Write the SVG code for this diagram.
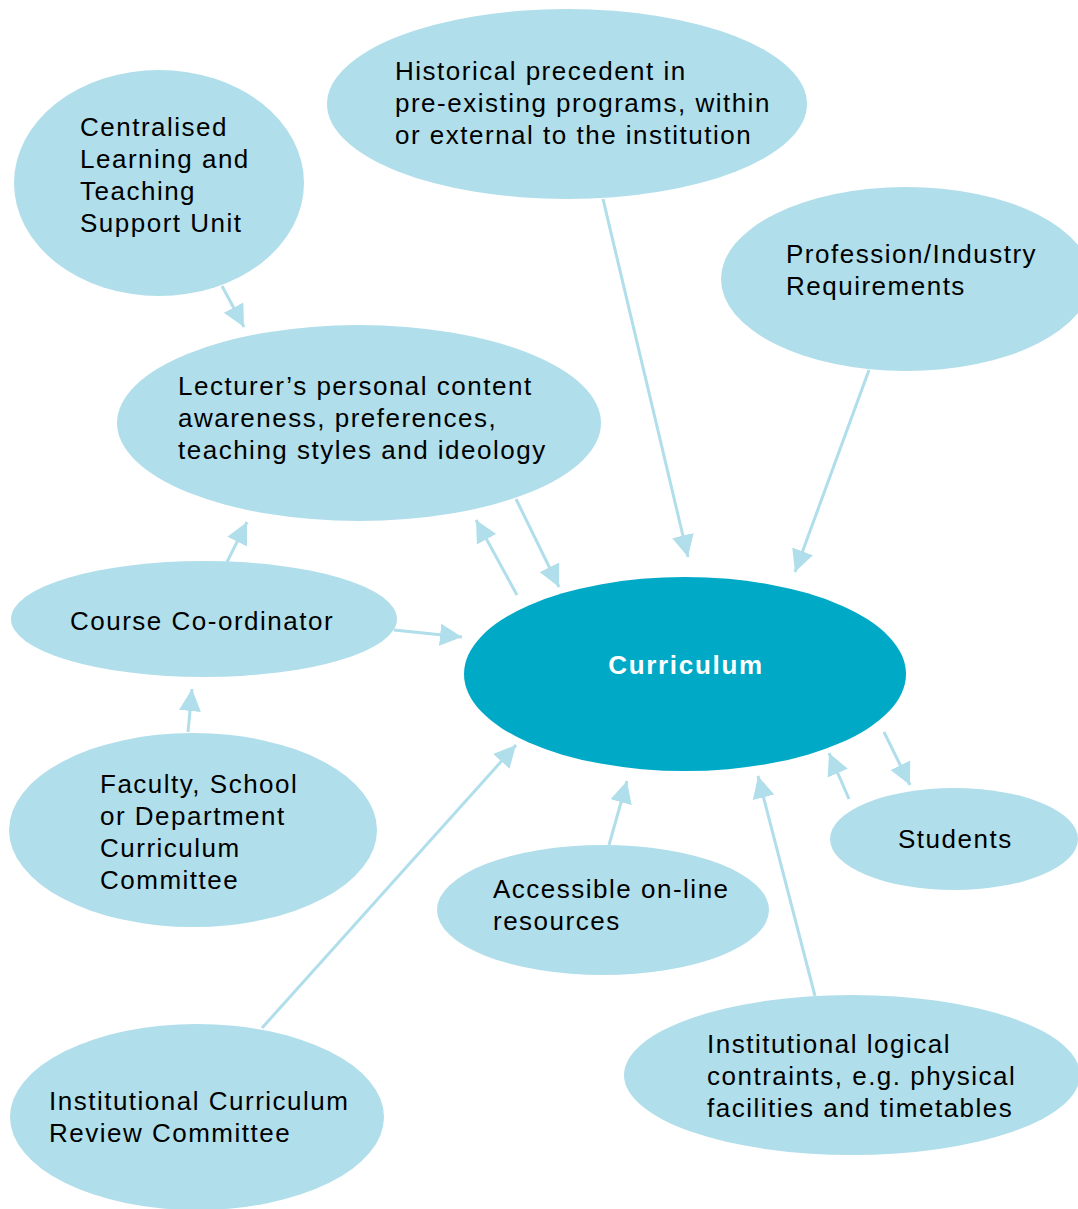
<svg xmlns="http://www.w3.org/2000/svg" width="1078" height="1209" viewBox="0 0 1078 1209">
<style>
.n{fill:#b0deea}
.c{fill:#00a9c6}
.t{font-family:"Liberation Sans",Arial,sans-serif;font-size:26px;letter-spacing:1.5px;fill:#000}
.ct{font-family:"Liberation Sans",Arial,sans-serif;font-size:26px;font-weight:bold;letter-spacing:1.7px;fill:#fff}
.e{stroke:#b0deea;stroke-width:3;fill:none;marker-end:url(#ah)}
</style>
<defs>
<marker id="ah" markerUnits="userSpaceOnUse" markerWidth="24" markerHeight="24" viewBox="0 0 24 24" refX="22" refY="12" orient="auto">
<path d="M0,1 L22,12 L0,23 Z" fill="#b0deea"/>
</marker>
</defs>
<rect width="1078" height="1209" fill="#fff"/>
<g id="connectors">
<line class="e" x1="222" y1="286" x2="244" y2="327"/>
<line class="e" x1="603" y1="199" x2="688" y2="557"/>
<line class="e" x1="869" y1="370" x2="795" y2="572"/>
<line class="e" x1="516" y1="499" x2="559" y2="587"/>
<line class="e" x1="517" y1="595" x2="476" y2="520"/>
<line class="e" x1="394" y1="630" x2="462" y2="637"/>
<line class="e" x1="227" y1="562" x2="247" y2="522"/>
<line class="e" x1="188" y1="732" x2="192" y2="689"/>
<line class="e" x1="262" y1="1028" x2="516" y2="745"/>
<line class="e" x1="609" y1="845" x2="627" y2="781"/>
<line class="e" x1="815" y1="996" x2="758" y2="776"/>
<line class="e" x1="884" y1="732" x2="910" y2="785"/>
<line class="e" x1="849" y1="799" x2="829" y2="753"/>
</g>
<g id="centralised">
<ellipse class="n" cx="159" cy="183" rx="145" ry="113"/>
<text class="t" x="80" y="136">Centralised</text>
<text class="t" x="80" y="168">Learning and</text>
<text class="t" x="80" y="200">Teaching</text>
<text class="t" x="80" y="232">Support Unit</text>
</g>
<g id="historical">
<ellipse class="n" cx="567" cy="104" rx="240" ry="95"/>
<text class="t" x="395" y="80">Historical precedent in</text>
<text class="t" x="395" y="112">pre-existing programs, within</text>
<text class="t" x="395" y="144">or external to the institution</text>
</g>
<g id="profession">
<ellipse class="n" cx="906" cy="279" rx="185" ry="92"/>
<text class="t" x="786" y="263">Profession/Industry</text>
<text class="t" x="786" y="295">Requirements</text>
</g>
<g id="lecturer">
<ellipse class="n" cx="359" cy="423" rx="242" ry="98"/>
<text class="t" x="178" y="395">Lecturer’s personal content</text>
<text class="t" x="178" y="427">awareness, preferences,</text>
<text class="t" x="178" y="459">teaching styles and ideology</text>
</g>
<g id="course">
<ellipse class="n" cx="204" cy="619" rx="193" ry="58"/>
<text class="t" x="70" y="630">Course Co-ordinator</text>
</g>
<g id="curriculum">
<ellipse class="c" cx="685" cy="674" rx="221" ry="97"/>
<text class="ct" x="686" y="674" text-anchor="middle">Curriculum</text>
</g>
<g id="faculty">
<ellipse class="n" cx="193" cy="830" rx="184" ry="97"/>
<text class="t" x="100" y="793">Faculty, School</text>
<text class="t" x="100" y="825">or Department</text>
<text class="t" x="100" y="857">Curriculum</text>
<text class="t" x="100" y="889">Committee</text>
</g>
<g id="students">
<ellipse class="n" cx="954" cy="839" rx="124" ry="51"/>
<text class="t" x="898" y="848">Students</text>
</g>
<g id="accessible">
<ellipse class="n" cx="603" cy="910" rx="166" ry="65"/>
<text class="t" x="493" y="898">Accessible on-line</text>
<text class="t" x="493" y="930">resources</text>
</g>
<g id="review">
<ellipse class="n" cx="197" cy="1117" rx="187" ry="93"/>
<text class="t" x="49" y="1110">Institutional Curriculum</text>
<text class="t" x="49" y="1142">Review Committee</text>
</g>
<g id="logistics">
<ellipse class="n" cx="852" cy="1075" rx="228" ry="80"/>
<text class="t" x="707" y="1053">Institutional logical</text>
<text class="t" x="707" y="1085">contraints, e.g. physical</text>
<text class="t" x="707" y="1117">facilities and timetables</text>
</g>
</svg>
